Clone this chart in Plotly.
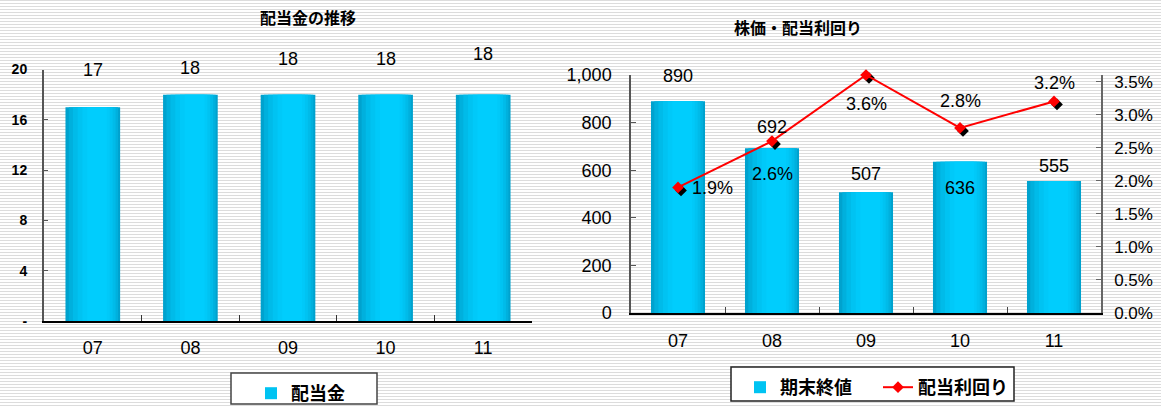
import plotly.graph_objects as go

# ---- data ----
years = ["07", "08", "09", "10", "11"]
dividend = [17, 18, 18, 18, 18]            # 配当金 (円)
close_price = [890, 692, 507, 636, 555]    # 期末終値 (円)
div_yield = [1.9, 2.6, 3.6, 2.8, 3.2]      # 配当利回り (%)
div_ticks = [0, 4, 8, 12, 16, 20]
div_ticktext = ["-", "4", "8", "12", "16", "20"]
yield_ticks = [0.0, 0.5, 1.0, 1.5, 2.0, 2.5, 3.0, 3.5]

# ---- layout helpers ----
W, H = 1161, 406
NUM_FONT = "Liberation Sans, Arial, sans-serif"
JP_FONT = "Noto Sans CJK JP, sans-serif"


def px_x(px):
    return px / W


def px_y(px):
    return 1 - px / H


# label offsets (pixels) relative to the mark they describe
div_label_dy = [37, 27, 36, 36, 41]
price_label_dy = [25, 21, 18, -26, 15]
yield_label_dy = [-1, -33, -29, 27, 18]
yield_label_dx = [34, 0, 0, 0, 0]

# cylinder-like shading: stacked, progressively narrower bars, highlight slightly right
shade_fracs = [1.0, 0.9, 0.78, 0.64, 0.5, 0.36]
shade_colors = ["#00a2ce", "#00b0dd", "#00bbe9", "#00c3f2", "#00c9f9", "#00cdfd"]
LEFT_BW, RIGHT_BW = 0.56, 0.575


def shade_bars(x, y, bw, xa, ya, name, legend):
    for i, (f, c) in enumerate(zip(shade_fracs, shade_colors)):
        w = bw * f
        shift = 0.12 * bw * (1 - f)
        fig.add_trace(go.Bar(
            x=x, y=y, width=w, offset=-w / 2 + shift,
            marker=dict(color=c, line=dict(width=0)),
            xaxis=xa, yaxis=ya, name=name, legend=legend,
            showlegend=(i == 3), hoverinfo="skip" if i else None,
        ))


fig = go.Figure()

# left chart: dividend bars
shade_bars(years, dividend, LEFT_BW, "x", "y", "配当金", "legend")
# right chart: closing price bars
shade_bars(years, close_price, RIGHT_BW, "x2", "y2", "期末終値", "legend2")

# dark drop shadow under the yield markers (shifted overlay axes, drawn first)
fig.add_trace(go.Scatter(
    x=years, y=div_yield, mode="markers", xaxis="x3", yaxis="y3",
    marker=dict(symbol="diamond", size=9, color="black"),
    showlegend=False, hoverinfo="skip", cliponaxis=False,
))

# dividend yield line
fig.add_trace(go.Scatter(
    x=years, y=div_yield, mode="lines+markers", xaxis="x4", yaxis="y4",
    name="配当利回り", legend="legend2",
    line=dict(color="#ff0000", width=2),
    marker=dict(symbol="diamond", size=9, color="#ff0000"),
    cliponaxis=False,
))

# ---- value labels (x given as category index) ----
lbl_font = dict(family=NUM_FONT, size=18, color="black")
ann = []
for i, (v, dy) in enumerate(zip(dividend, div_label_dy)):
    ann.append(dict(x=i, y=v, xref="x", yref="y", text=f"{v}", showarrow=False,
                    yshift=dy, font=lbl_font))
for i, (v, dy) in enumerate(zip(close_price, price_label_dy)):
    ann.append(dict(x=i, y=v, xref="x2", yref="y2", text=f"{v:,}", showarrow=False,
                    yshift=dy, font=lbl_font))
for i, (v, dy, dx) in enumerate(zip(div_yield, yield_label_dy, yield_label_dx)):
    ann.append(dict(x=i, y=v, xref="x2", yref="y4", text=f"{v:.1f}%", showarrow=False,
                    yshift=dy, xshift=dx, font=lbl_font))

# chart titles
ann.append(dict(x=px_x(258), y=px_y(17), xref="paper", yref="paper", text="<b>配当金の推移</b>",
                showarrow=False, yanchor="middle",
                font=dict(family=JP_FONT, size=16, color="black")))
ann.append(dict(x=px_x(864), y=px_y(27), xref="paper", yref="paper", text="<b>株価・配当利回り</b>",
                showarrow=False, yanchor="middle",
                font=dict(family=JP_FONT, size=16, color="black")))

# ---- striped background + legend frames ----
stripe_path = " ".join(f"M0,{px_y(k + 0.5):.5f} L1,{px_y(k + 0.5):.5f}" for k in range(0, H, 3))
shapes = [
    dict(type="path", path=stripe_path, xref="paper", yref="paper",
         line=dict(color="#dcdcdc", width=1), layer="below"),
    dict(type="rect", xref="paper", yref="paper",
         x0=px_x(231), x1=px_x(377), y0=px_y(404), y1=px_y(373),
         line=dict(color="#444444", width=1.5), fillcolor="white", layer="below"),
    dict(type="rect", xref="paper", yref="paper",
         x0=px_x(731), x1=px_x(1014), y0=px_y(401), y1=px_y(367),
         line=dict(color="#222222", width=1.5), fillcolor="white", layer="below"),
]

tick_font = dict(family=NUM_FONT, size=18, color="black")
left_dom = [px_x(44), px_x(532)]
right_dom = [px_x(631), px_x(1101)]
shadow_dx = 3 / 94.0       # 3px in category units
shadow_dy = 3 / 66.1       # 3px in percent units

fig.update_layout(
    width=W, height=H, margin=dict(l=0, r=0, t=0, b=0, autoexpand=False),
    paper_bgcolor="white", plot_bgcolor="rgba(0,0,0,0)",
    barmode="overlay", annotations=ann, shapes=shapes,
    xaxis=dict(domain=left_dom, anchor="y", type="category", range=[-0.5, 4.5],
               showgrid=False, showline=True, linecolor="black", linewidth=2,
               ticks="inside", ticklen=6, tickcolor="#333", tickson="boundaries",
               tickfont=tick_font, ticklabelstandoff=9),
    yaxis=dict(domain=[px_y(321), px_y(69.5)], anchor="x", range=[0, 20],
               tickvals=div_ticks, ticktext=div_ticktext, showgrid=False, zeroline=False,
               showline=True, linecolor="#555", linewidth=2,
               ticks="inside", ticklen=4, tickcolor="#555",
               tickfont=dict(family=NUM_FONT, size=14, color="black", weight="bold"),
               ticklabelstandoff=12),
    xaxis2=dict(domain=right_dom, anchor="y2", type="category", range=[-0.5, 4.5],
                showgrid=False, showline=True, linecolor="black", linewidth=2,
                ticks="inside", ticklen=6, tickcolor="#444", tickson="boundaries",
                tickfont=tick_font, ticklabelstandoff=10),
    yaxis2=dict(domain=[px_y(313), px_y(75)], anchor="x2", range=[0, 1000], dtick=200,
                tickformat=",", showgrid=False, zeroline=False,
                showline=True, linecolor="#555", linewidth=1.5,
                ticks="inside", ticklen=5, tickcolor="#555",
                tickfont=tick_font, ticklabelstandoff=14),
    xaxis3=dict(overlaying="x2", anchor="y3", type="category", visible=False,
                range=[-0.5 - shadow_dx, 4.5 - shadow_dx]),
    yaxis3=dict(overlaying="y2", anchor="x3", visible=False,
                range=[shadow_dy, 3.6 + shadow_dy]),
    xaxis4=dict(overlaying="x2", anchor="y4", type="category", visible=False,
                range=[-0.5, 4.5]),
    yaxis4=dict(overlaying="y2", anchor="x2", side="right", range=[0, 3.6],
                tickvals=yield_ticks, ticktext=[f"{t:.1f}%" for t in yield_ticks],
                showgrid=False, zeroline=False,
                showline=True, linecolor="#666", linewidth=1.5,
                ticks="inside", ticklen=5, tickcolor="#666",
                tickfont=dict(family=NUM_FONT, size=17, color="black"),
                ticklabelstandoff=8),
    legend=dict(x=px_x(251), y=px_y(375), xanchor="left", yanchor="top",
                orientation="h", bgcolor="rgba(0,0,0,0)", borderwidth=0,
                font=dict(family=JP_FONT, size=18, color="black", weight="bold")),
    legend2=dict(x=px_x(740), y=px_y(369), xanchor="left", yanchor="top",
                 orientation="h", bgcolor="rgba(0,0,0,0)", borderwidth=0,
                 entrywidth=93, entrywidthmode="pixels",
                 font=dict(family=JP_FONT, size=18, color="black", weight="bold")),
)

fig.write_html("out.html")
